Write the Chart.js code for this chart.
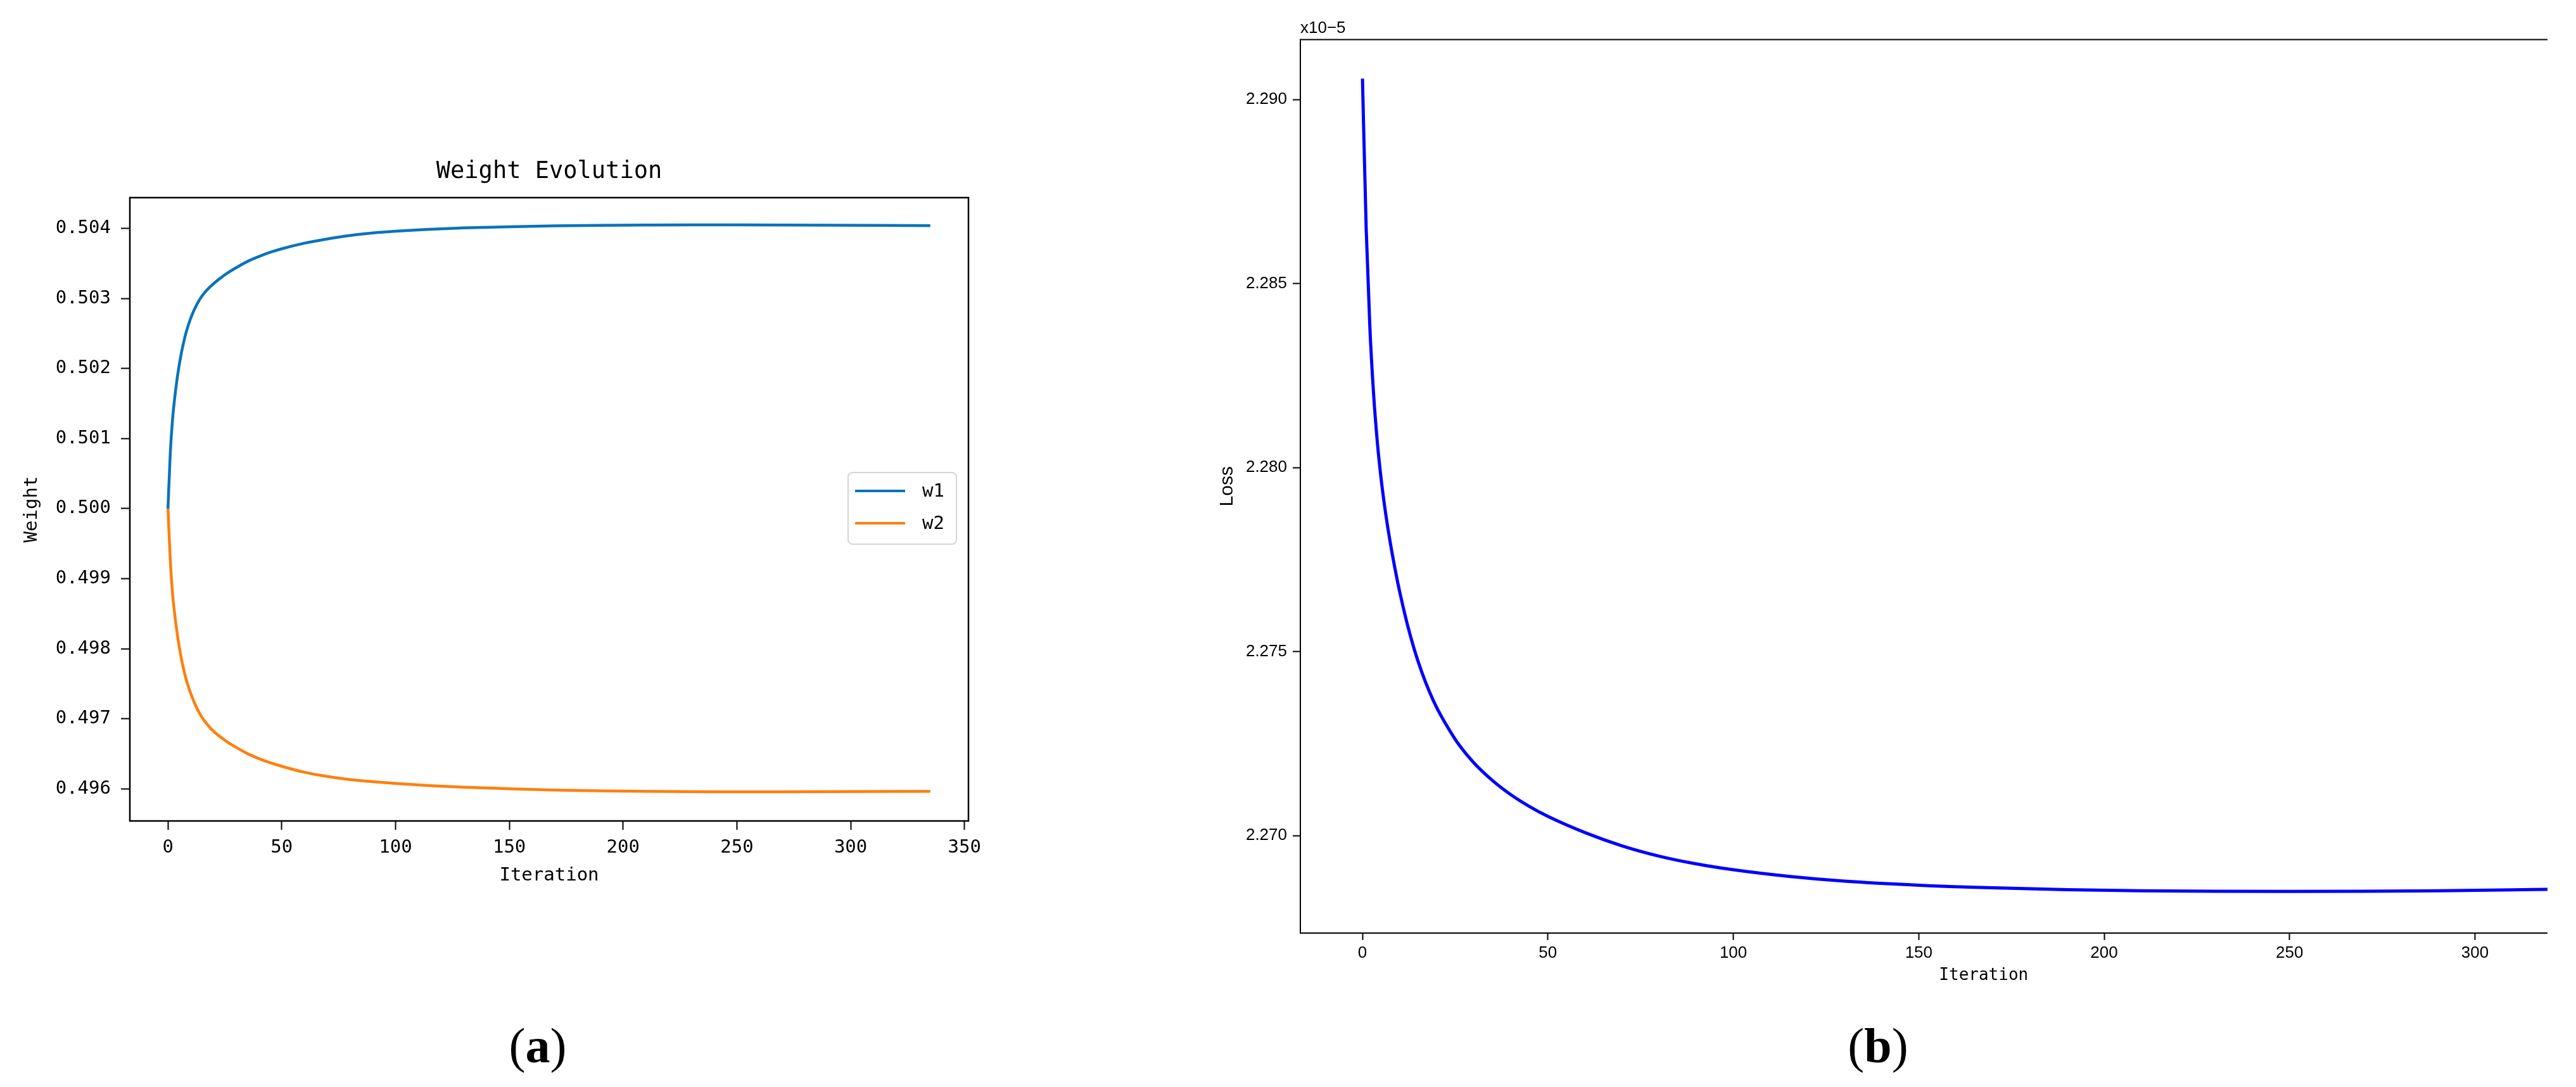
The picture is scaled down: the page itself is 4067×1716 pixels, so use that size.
<!DOCTYPE html>
<html>
<head>
<meta charset="utf-8">
<title>Weight Evolution / Loss</title>
<script src="https://cdn.jsdelivr.net/npm/chart.js@4/dist/chart.umd.min.js"></script>
<style>
  html, body { margin: 0; padding: 0; background: #fff; }
  body { width: 4067px; height: 1716px; position: relative; overflow: hidden; }
  #wrap-a { position: absolute; left: 0; top: 0; }
  /* the loss panel is cut off on the right in the original figure */
  #wrap-b { position: absolute; left: 1850px; top: 0; width: 2172px; height: 1716px; overflow: hidden; }
  .cap {
    position: absolute; top: 1651px; transform: translate(-50%, -50%);
    font-family: "Liberation Serif", "DejaVu Serif", serif; font-size: 78px; line-height: 1; color: #000;
  }
</style>
</head>
<body>
<div id="wrap-a"><canvas id="chart-weight" width="1700" height="1426"></canvas></div>
<div id="wrap-b"><canvas id="chart-loss" width="2377" height="1573"></canvas></div>
<div class="cap" style="left:849px">(<b>a</b>)</div>
<div class="cap" style="left:2965px">(<b>b</b>)</div>

<script>
/* =============================================
   DATA
   ============================================= */

// iterations at which the curves were sampled
const iterations = [0, 1, 2, 3, 4, 5, 6, 7, 8, 10, 12, 14, 16, 18, 20, 23, 26, 30, 35, 40,
  45, 50, 60, 70, 80, 90, 100, 115, 130, 150, 170, 190, 210, 230, 250, 270, 290, 310, 335];

const w1Values = [0.500000, 0.500780, 0.501270, 0.501590, 0.501850, 0.502060, 0.502240, 0.502390, 0.502520, 0.502720,
  0.502870, 0.502990, 0.503080, 0.503150, 0.503210, 0.503290, 0.503360, 0.503440, 0.503530, 0.503600,
  0.503660, 0.503710, 0.503790, 0.503850, 0.503900, 0.503935, 0.503960, 0.503988, 0.504008, 0.504025,
  0.504037, 0.504044, 0.504048, 0.504050, 0.504050, 0.504049, 0.504047, 0.504044, 0.504040];

const w2Values = [0.500000, 0.499280, 0.498790, 0.498480, 0.498230, 0.498020, 0.497840, 0.497690, 0.497560, 0.497360,
  0.497200, 0.497070, 0.496970, 0.496890, 0.496820, 0.496740, 0.496670, 0.496590, 0.496500, 0.496430,
  0.496370, 0.496320, 0.496235, 0.496175, 0.496130, 0.496100, 0.496075, 0.496045, 0.496022, 0.496000,
  0.495982, 0.495970, 0.495962, 0.495958, 0.495957, 0.495957, 0.495958, 0.495960, 0.495963];

// loss, in units of 1e-5
const lossValues = [2.29057, 2.28650, 2.28380, 2.28200, 2.28070, 2.27972, 2.27893, 2.27826, 2.27767, 2.27664,
  2.27578, 2.27505, 2.27444, 2.27392, 2.27348, 2.27294, 2.27247, 2.27198, 2.27150, 2.27111,
  2.27079, 2.27052, 2.27008, 2.26972, 2.26944, 2.26923, 2.26907, 2.26889, 2.26876, 2.26865,
  2.26858, 2.268530, 2.268500, 2.268485, 2.268480, 2.268485, 2.268500, 2.268525, 2.268560];

const iterTicks   = [0, 50, 100, 150, 200, 250, 300, 350];
const weightTicks = [0.496, 0.497, 0.498, 0.499, 0.500, 0.501, 0.502, 0.503, 0.504];
const lossTicks   = [2.270, 2.275, 2.280, 2.285, 2.290];

const MONO = '"DejaVu Sans Mono", "Liberation Mono", monospace';
const SANS = '"Liberation Sans", Arial, sans-serif';

/* =============================================
   HELPERS / PLUGINS
   ============================================= */

/** zip x and y arrays into {x, y} points */
function toPoints(xs, ys) {
  return xs.map((x, i) => ({ x, y: ys[i] }));
}

/** Box round the plot area, like matplotlib spines */
const framePlugin = {
  id: 'frame',
  afterDatasetsDraw(chart, args, opts) {
    const { ctx, chartArea: a } = chart;
    ctx.save();
    ctx.strokeStyle = '#000';
    ctx.lineWidth = opts.width || 2;
    ctx.strokeRect(a.left, a.top, a.right - a.left, a.bottom - a.top);
    ctx.restore();
  }
};

/** matplotlib style legend, placed 'center right' inside the axes */
const boxLegendPlugin = {
  id: 'boxLegend',
  afterDraw(chart) {
    const { ctx, chartArea: a } = chart;
    const w = 171, h = 113;
    const left = a.right - 19 - w;
    const top = (a.top + a.bottom) / 2 - 58;
    ctx.save();
    ctx.fillStyle = 'rgba(255,255,255,0.9)';
    ctx.strokeStyle = '#d4d4d4';
    ctx.lineWidth = 2;
    ctx.beginPath();
    ctx.roundRect(left, top, w, h, 7);
    ctx.fill();
    ctx.stroke();
    ctx.font = '29px ' + MONO;
    ctx.textBaseline = 'middle';
    chart.data.datasets.forEach((ds, i) => {
      const y = top + 29 + i * 51;
      ctx.strokeStyle = ds.borderColor;
      ctx.lineWidth = 4;
      ctx.beginPath();
      ctx.moveTo(left + 11, y);
      ctx.lineTo(left + 90, y);
      ctx.stroke();
      ctx.fillStyle = '#000';
      ctx.fillText(ds.label, left + 117, y + 1);
    });
    ctx.restore();
  }
};

/** offset text above the y axis (x10-5) */
const offsetTextPlugin = {
  id: 'offsetText',
  afterDraw(chart, args, opts) {
    const { ctx, chartArea: a } = chart;
    ctx.save();
    ctx.font = '26px ' + SANS;
    ctx.fillStyle = '#000';
    ctx.textAlign = 'left';
    ctx.textBaseline = 'alphabetic';
    ctx.fillText(opts.text, a.left, a.top - 11);
    ctx.restore();
  }
};

function tickGrid(len) {
  return { display: true, drawOnChartArea: false, drawTicks: true, tickLength: len, tickWidth: 2, tickColor: '#000' };
}

/* =============================================
   CHART (a) — Weight Evolution
   ============================================= */
const weightChart = new Chart(document.getElementById('chart-weight'), {
  type: 'line',
  data: {
    datasets: [
      { label: 'w1', data: toPoints(iterations, w1Values), borderColor: '#0a73bb', borderWidth: 4.5 },
      { label: 'w2', data: toPoints(iterations, w2Values), borderColor: '#ff7f0e', borderWidth: 4.5 }
    ]
  },
  options: {
    responsive: false,
    animation: false,
    devicePixelRatio: 1,
    layout: { padding: { top: 240, left: 0, right: 171, bottom: 0 } },
    elements: { point: { radius: 0 }, line: { cubicInterpolationMode: 'monotone' } },
    plugins: {
      legend: { display: false },
      tooltip: { enabled: false },
      title: {
        display: true, text: 'Weight Evolution', color: '#000', fullSize: false,
        font: { family: MONO, size: 37, weight: 'normal' },
        padding: { top: 8.8, bottom: 18.8 }
      },
      frame: { width: 2.5 }
    },
    scales: {
      x: {
        type: 'linear', min: -16.75, max: 351.75,
        afterBuildTicks: s => { s.ticks = iterTicks.map(v => ({ value: v })); },
        afterFit: s => { s.height = 130; },
        grid: tickGrid(14),
        border: { display: false },
        ticks: { autoSkip: false, maxRotation: 0, padding: 11, color: '#000', font: { family: MONO, size: 29 } },
        title: { display: true, text: 'Iteration', color: '#000', font: { family: MONO, size: 29 }, padding: { top: 0, bottom: 26 } }
      },
      y: {
        type: 'linear', min: 0.49554, max: 0.50444,
        afterBuildTicks: s => { s.ticks = weightTicks.map(v => ({ value: v })); },
        afterFit: s => { s.width = 205; },
        grid: tickGrid(14),
        border: { display: false },
        ticks: { autoSkip: false, padding: 16, color: '#000', font: { family: MONO, size: 29 }, callback: v => v.toFixed(3) },
        title: { display: true, text: 'Weight', color: '#000', font: { family: MONO, size: 29 }, padding: { top: 33, bottom: 0 } }
      }
    }
  },
  plugins: [framePlugin, boxLegendPlugin]
});

/* =============================================
   CHART (b) — Loss
   ============================================= */
const lossChart = new Chart(document.getElementById('chart-loss'), {
  type: 'line',
  data: {
    datasets: [
      { label: 'Loss', data: toPoints(iterations, lossValues), borderColor: '#0000ff', borderWidth: 5 }
    ]
  },
  options: {
    responsive: false,
    animation: false,
    devicePixelRatio: 1,
    layout: { padding: { top: 62.5, left: 0, right: 0, bottom: 0 } },
    elements: { point: { radius: 0 }, line: { cubicInterpolationMode: 'monotone' } },
    plugins: {
      legend: { display: false },
      tooltip: { enabled: false },
      frame: { width: 2 },
      offsetText: { text: 'x10\u22125' }
    },
    scales: {
      x: {
        type: 'linear', min: -16.75, max: 351.75,
        afterBuildTicks: s => { s.ticks = iterTicks.map(v => ({ value: v })); },
        afterFit: s => { s.height = 100; },
        grid: tickGrid(11),
        border: { display: false },
        ticks: { autoSkip: false, maxRotation: 0, padding: 5, color: '#000', font: { family: SANS, size: 26 } },
        title: { display: true, text: 'Iteration', color: '#000', font: { family: MONO, size: 26 }, padding: { top: 0, bottom: 17 } }
      },
      y: {
        type: 'linear', min: 2.26735, max: 2.29163,
        afterBuildTicks: s => { s.ticks = lossTicks.map(v => ({ value: v })); },
        afterFit: s => { s.width = 203; },
        grid: tickGrid(12),
        border: { display: false },
        ticks: { autoSkip: false, padding: 9, color: '#000', font: { family: SANS, size: 26 }, callback: v => v.toFixed(3) },
        title: { display: true, text: 'Loss', color: '#000', font: { family: SANS, size: 30 }, padding: { top: 70, bottom: 0 } }
      }
    }
  },
  plugins: [framePlugin, offsetTextPlugin]
});
</script>
</body>
</html>
